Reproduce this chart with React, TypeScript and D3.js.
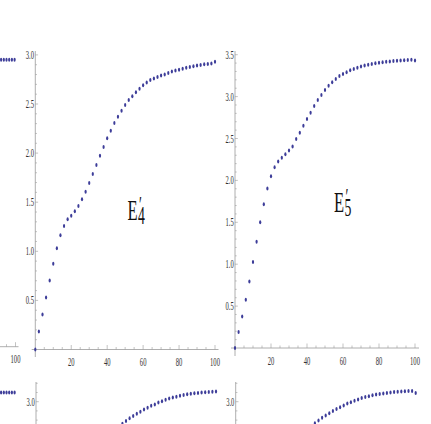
import React from 'react';
import * as d3 from 'd3';

// ---------- data ----------
const X_MAIN = [0, 2, 4, 6, 8, 10, 12, 14, 16, 18, 20, 22, 24, 26, 28, 30, 32, 34, 36, 38, 40, 42, 44, 46, 48, 50,
  52, 54, 56, 58, 60, 62, 64, 66, 68, 70, 72, 74, 76, 78, 80, 82, 84, 86, 88, 90, 92, 94, 96, 98, 100];

const E4_VALUES = [0, 0.183, 0.356, 0.529, 0.702, 0.872, 1.031, 1.163, 1.258, 1.326, 1.363, 1.407, 1.462, 1.529,
  1.607, 1.696, 1.787, 1.879, 1.974, 2.062, 2.15, 2.228, 2.306, 2.37, 2.43, 2.49, 2.54, 2.58, 2.62, 2.655, 2.69,
  2.72, 2.744, 2.76, 2.775, 2.79, 2.8, 2.815, 2.83, 2.84, 2.85, 2.86, 2.87, 2.878, 2.885, 2.892, 2.898, 2.904,
  2.908, 2.912, 2.93];

const E5_VALUES = [0, 0.191, 0.377, 0.577, 0.795, 1.026, 1.268, 1.5, 1.715, 1.902, 2.05, 2.158, 2.225, 2.269,
  2.313, 2.356, 2.404, 2.493, 2.568, 2.652, 2.732, 2.807, 2.887, 2.959, 3.02, 3.08, 3.13, 3.17, 3.21, 3.245, 3.27,
  3.29, 3.313, 3.33, 3.345, 3.36, 3.37, 3.38, 3.39, 3.397, 3.403, 3.41, 3.415, 3.42, 3.424, 3.428, 3.432, 3.435,
  3.438, 3.44, 3.43];

const LEFT_X = [92, 93.5, 95, 96.5, 98, 99.5];
const LEFT_TOP_VALUES = [2.92, 2.92, 2.92, 2.92, 2.92, 2.92];
const LEFT_BOTTOM_VALUES = [3.1, 3.1, 3.1, 3.1, 3.1, 3.1];

const BOTTOM_MID_X = [44, 46, 48, 50, 52, 54, 56, 58, 60, 62, 64, 66, 68, 70, 72, 74, 76, 78, 80, 82, 84, 86, 88,
  90, 92, 94, 96, 98, 100];
const BOTTOM_MID_VALUES = [2.69, 2.73, 2.76, 2.79, 2.82, 2.845, 2.87, 2.89, 2.915, 2.935, 2.955, 2.97, 2.99, 3.005,
  3.02, 3.035, 3.045, 3.055, 3.065, 3.073, 3.08, 3.086, 3.091, 3.095, 3.099, 3.102, 3.105, 3.107, 3.11];

const BOTTOM_RIGHT_X = [40, 42, 44, 46, 48, 50, 52, 54, 56, 58, 60, 62, 64, 66, 68, 70, 72, 74, 76, 78, 80, 82, 84,
  86, 88, 90, 92, 94, 96, 98, 100];
const BOTTOM_RIGHT_VALUES = [2.7, 2.735, 2.765, 2.795, 2.825, 2.85, 2.875, 2.9, 2.92, 2.94, 2.96, 2.98, 2.995,
  3.01, 3.025, 3.04, 3.05, 3.06, 3.07, 3.077, 3.083, 3.089, 3.095, 3.1, 3.105, 3.108, 3.111, 3.113, 3.115, 3.116,
  3.095];

const X_TICK_LABELS = [20, 40, 60, 80, 100];
const LEFT_X_TICK_LABELS = [100];
const E4_Y_LABELS = [0.5, 1.0, 1.5, 2.0, 2.5, 3.0];
const E5_Y_LABELS = [0.5, 1.0, 1.5, 2.0, 2.5, 3.0, 3.5];
const BOTTOM_Y_LABELS = [3.0];
const TITLES = [{ main: 'E', sub: '4' }, { main: 'E', sub: '5' }];

// ---------- style ----------
const DOT = '#3d3d99';
const AXIS = '#9a9a9a';
const LABEL = '#333';
const FONT = '"Liberation Serif", "DejaVu Serif", serif';
const SQ = 0.55;

type PanelProps = {
  x0: number; x1: number;
  yDomain: [number, number]; yRange: [number, number];
  axisTop: number; axisBottom: number; xAxisLeft: number; xAxisRight: number;
  yMinorMax: number; yLabels: number[];
  showX: boolean; xLabels: number[];
  xs: number[]; ys: number[];
};

const Panel = (p: PanelProps) => {
  const x = d3.scaleLinear().domain([0, 100]).range([p.x0, p.x1]);
  const y = d3.scaleLinear().domain(p.yDomain).range(p.yRange);
  const ax = x(0);
  const ay = y(0);
  const minorY = d3.range(1, Math.round(p.yMinorMax * 10) + 1).map((v) => v / 10);
  const minorX = d3.range(5, 101, 5).filter((v) => x(v) >= p.xAxisLeft);
  return (
    <g>
      {p.axisBottom > p.axisTop && (
        <line x1={ax} x2={ax} y1={p.axisTop} y2={p.axisBottom} stroke={AXIS} strokeWidth={0.8} />
      )}
      {minorY.map((v) => {
        const major = Math.abs(v * 2 - Math.round(v * 2)) < 1e-6;
        return <line key={v} x1={ax} x2={ax + (major ? 2.8 : 1.7)} y1={y(v)} y2={y(v)} stroke={AXIS} strokeWidth={0.6} />;
      })}
      {p.yLabels.map((v) => (
        <text key={'yl' + v} transform={`translate(${ax - 1.3},${y(v) + 4}) scale(${SQ},1)`} textAnchor="end"
          fontFamily={FONT} fontSize={12} fill={LABEL}>{v.toFixed(1)}</text>
      ))}
      {p.showX && (
        <g>
          <line x1={p.xAxisLeft} x2={p.xAxisRight} y1={ay} y2={ay} stroke={AXIS} strokeWidth={0.8} />
          {minorX.map((v) => {
            const major = v % 20 === 0;
            return <line key={'xt' + v} x1={x(v)} x2={x(v)} y1={ay} y2={ay - (major ? 4.5 : 2.5)} stroke={AXIS} strokeWidth={0.6} />;
          })}
          {p.xLabels.map((v) => (
            <text key={'xl' + v} transform={`translate(${x(v)},${ay + 16.5}) scale(${SQ},1)`} textAnchor="middle"
              fontFamily={FONT} fontSize={12} fill={LABEL}>{v}</text>
          ))}
        </g>
      )}
      {p.xs.map((xv, i) => (
        <ellipse key={'d' + i} cx={x(xv)} cy={y(p.ys[i])} rx={1.1} ry={2} fill={DOT} />
      ))}
    </g>
  );
};

const Title = ({ x, y, main, sub }: { x: number; y: number; main: string; sub: string }) => (
  <text transform={`translate(${x},${y}) scale(${SQ},1)`} fontFamily={FONT} fill="#111" fontSize={30}>
    {main}
    <tspan x={11.5 / SQ} y={-8} fontSize={24}>′</tspan>
    <tspan x={10.5 / SQ} y={3.5} fontSize={25}>{sub}</tspan>
  </text>
);

export default function App() {
  return (
    <svg width={431} height={424} style={{ position: 'absolute', left: 0, top: 0, background: '#fff' }}>
      {/* top-left partial panel */}
      <Panel x0={-164.5} x1={15.5} yDomain={[0, 3]} yRange={[346.7, 52]} axisTop={0} axisBottom={0}
        xAxisLeft={0} xAxisRight={18.5} yMinorMax={0} yLabels={[]} showX xLabels={LEFT_X_TICK_LABELS}
        xs={LEFT_X} ys={LEFT_TOP_VALUES} />
      {/* E'4 */}
      <Panel x0={35.3} x1={215} yDomain={[0, 3]} yRange={[349.5, 54.9]} axisTop={51} axisBottom={357}
        xAxisLeft={31.7} xAxisRight={218.5} yMinorMax={3.0} yLabels={E4_Y_LABELS} showX xLabels={X_TICK_LABELS}
        xs={X_MAIN} ys={E4_VALUES} />
      {/* E'5 */}
      <Panel x0={235} x1={415} yDomain={[0, 3.5]} yRange={[348, 54.7]} axisTop={51} axisBottom={356}
        xAxisLeft={231} xAxisRight={419} yMinorMax={3.5} yLabels={E5_Y_LABELS} showX xLabels={X_TICK_LABELS}
        xs={X_MAIN} ys={E5_VALUES} />
      {/* bottom row */}
      <Panel x0={-164.5} x1={15.5} yDomain={[0, 3]} yRange={[677.7, 401.7]} axisTop={0} axisBottom={0}
        xAxisLeft={0} xAxisRight={0} yMinorMax={0} yLabels={[]} showX={false} xLabels={[]}
        xs={LEFT_X} ys={LEFT_BOTTOM_VALUES} />
      <Panel x0={36} x1={216} yDomain={[0, 3]} yRange={[677.7, 401.7]} axisTop={382} axisBottom={440}
        xAxisLeft={0} xAxisRight={0} yMinorMax={3.2} yLabels={BOTTOM_Y_LABELS} showX={false} xLabels={[]}
        xs={BOTTOM_MID_X} ys={BOTTOM_MID_VALUES} />
      <Panel x0={235.7} x1={415.7} yDomain={[0, 3]} yRange={[677.7, 401.7]} axisTop={382} axisBottom={440}
        xAxisLeft={0} xAxisRight={0} yMinorMax={3.2} yLabels={BOTTOM_Y_LABELS} showX={false} xLabels={[]}
        xs={BOTTOM_RIGHT_X} ys={BOTTOM_RIGHT_VALUES} />
      <Title x={127.5} y={220} main={TITLES[0].main} sub={TITLES[0].sub} />
      <Title x={334} y={212} main={TITLES[1].main} sub={TITLES[1].sub} />
    </svg>
  );
}
